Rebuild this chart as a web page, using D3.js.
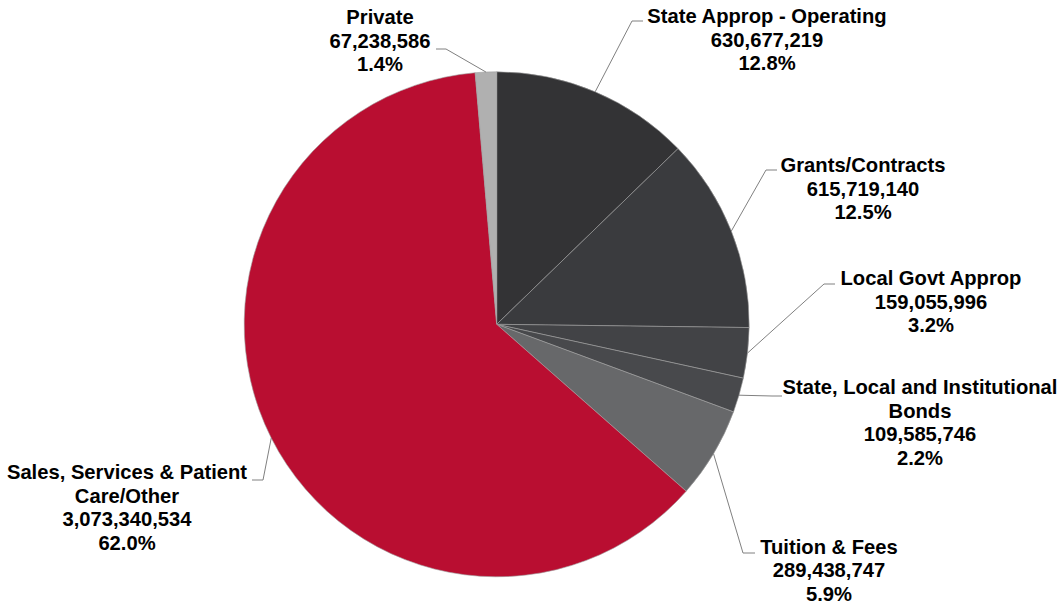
<!DOCTYPE html>
<html>
<head>
<meta charset="utf-8">
<script src="https://cdn.jsdelivr.net/npm/d3@7"></script>
<style>
  html, body { margin: 0; padding: 0; background: #fff; }
  svg { display: block; }
  text { font-family: "Liberation Sans", Arial, sans-serif; font-weight: bold; font-size: 20.2px; fill: #000; }
</style>
</head>
<body>
<svg id="chart" width="1064" height="603"></svg>
<script>
// Revenue sources, clockwise from 12 o'clock
const categories = [
  ["State Approp - Operating"],
  ["Grants/Contracts"],
  ["Local Govt Approp"],
  ["State, Local and Institutional", "Bonds"],
  ["Tuition & Fees"],
  ["Sales, Services & Patient", "Care/Other"],
  ["Private"]
];
const amounts = [630677219, 615719140, 159055996, 109585746, 289438747, 3073340534, 67238586];
const shareLabels = ["12.8%", "12.5%", "3.2%", "2.2%", "5.9%", "62.0%", "1.4%"];
const sliceColors = ["#333335", "#3a3b3e", "#424346", "#48494c", "#67686a", "#b90e31", "#b0b0b0"];

// Label placement: text centre x, first baseline y, leader elbow and end points
const labelLayout = [
  { x: 767, y: 23,  elbow: [632, 21],  end: [643, 21] },
  { x: 863, y: 172, elbow: [766, 170], end: [777, 170] },
  { x: 931, y: 285, elbow: [824, 284], end: [835, 284] },
  { x: 920, y: 394, elbow: [772, 396], end: [782, 396] },
  { x: 829, y: 553.5, elbow: [743, 553], end: [755, 553] },
  { x: 127, y: 479, elbow: [263, 480], end: [252, 480] },
  { x: 380, y: 24,  elbow: [446, 49],  end: [436, 49] }
];

const cx = 496.7, cy = 324.3, radius = 252.5, lineGap = 23.5;
const fmt = d3.format(",");

const svg = d3.select("#chart");
const g = svg.append("g").attr("transform", `translate(${cx},${cy})`);

const pie = d3.pie().sort(null).value(d => d.value);
const arc = d3.arc().innerRadius(0).outerRadius(radius);

const data = amounts.map((v, i) => ({ value: v, i }));
const arcs = pie(data);

g.selectAll("path.slice")
  .data(arcs)
  .join("path")
  .attr("class", "slice")
  .attr("d", arc)
  .attr("fill", d => sliceColors[d.data.i])
  .attr("stroke", "#a0a0a0")
  .attr("stroke-width", 0.6);

// Leader lines from the slice edge midpoint to the label
const leaders = svg.append("g");
arcs.forEach(d => {
  const mid = (d.startAngle + d.endAngle) / 2;
  const px = cx + radius * Math.sin(mid);
  const py = cy - radius * Math.cos(mid);
  const L = labelLayout[d.data.i];
  leaders.append("polyline")
    .attr("points", [[px, py], L.elbow, L.end].map(p => p.join(",")).join(" "))
    .attr("fill", "none")
    .attr("stroke", "#808080")
    .attr("stroke-width", 1);
});

// Labels: name (one or two lines), amount, share
const labels = svg.append("g");
arcs.forEach(d => {
  const i = d.data.i;
  const L = labelLayout[i];
  const lines = [...categories[i], fmt(amounts[i]), shareLabels[i]];
  const t = labels.append("text")
    .attr("text-anchor", "middle")
    .attr("x", L.x)
    .attr("y", L.y);
  lines.forEach((s, k) => {
    t.append("tspan")
      .attr("x", L.x)
      .attr("y", L.y + k * lineGap)
      .text(s);
  });
});
</script>
</body>
</html>
